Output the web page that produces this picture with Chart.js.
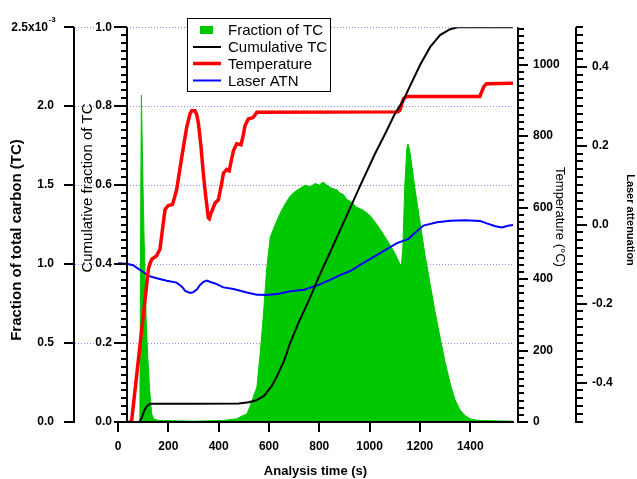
<!DOCTYPE html>
<html>
<head>
<meta charset="utf-8">
<script src="https://cdn.jsdelivr.net/npm/chart.js@4.4.0/dist/chart.umd.min.js"></script>
<style>
  html, body { margin: 0; padding: 0; background: #fff; }
</style>
</head>
<body>
<canvas id="tcChart" width="637" height="479"></canvas>
<script>
// Datos (tiempo en s)
const fracTime = [0, 87, 90, 93, 96, 100, 104, 108, 112, 118, 127, 134, 142, 160, 300, 420, 472, 495,
  512, 525, 538, 552, 565, 578, 591, 605, 625, 644, 664, 684, 704, 724, 744, 764, 784, 800, 815, 830,
  850, 870, 882, 896, 909, 930, 949, 976, 1000, 1020, 1042, 1062, 1082, 1100, 1115, 1126, 1132, 1140, 1148, 1152,
  1157, 1165, 1180, 1201, 1220, 1241, 1260, 1281, 1300, 1321, 1340, 1360, 1380, 1400, 1430, 1570];
// Fracción de TC en unidades de 1e-3
const fracTC = [0, 0, 1.3, 2.07, 1.8, 1.45, 1.15, 0.9, 0.65, 0.42, 0.18, 0.05, 0.02, 0.01, 0.005, 0.01, 0.02, 0.04,
  0.05, 0.1, 0.16, 0.22, 0.43, 0.68, 0.97, 1.17, 1.25, 1.32, 1.38, 1.43, 1.46, 1.48, 1.50, 1.49, 1.51, 1.50, 1.52, 1.50,
  1.48, 1.47, 1.45, 1.44, 1.41, 1.39, 1.36, 1.34, 1.31, 1.27, 1.22, 1.17, 1.12, 1.07, 1.02, 0.98, 1.1, 1.5, 1.73, 1.76,
  1.74, 1.66, 1.48, 1.26, 1.06, 0.87, 0.70, 0.53, 0.38, 0.24, 0.14, 0.075, 0.04, 0.02, 0.01, 0.005];

const cumTime = [0, 86, 95, 105, 115, 127, 300, 480, 520, 550, 580, 610, 631, 660, 684, 720, 760, 800, 843, 900,
  960, 1022, 1062, 1100, 1134, 1160, 1201, 1241, 1280, 1320, 1350, 1570];
const cumTC = [0, 0, 0.012, 0.03, 0.04, 0.046, 0.046, 0.047, 0.05, 0.055, 0.066, 0.09, 0.115, 0.155, 0.2, 0.255, 0.31, 0.37, 0.43, 0.51,
  0.595, 0.68, 0.73, 0.78, 0.815, 0.85, 0.905, 0.95, 0.98, 0.995, 1.0, 1.0];

const tempTime = [45, 54, 121, 128, 134, 154, 167, 177, 187, 200, 217, 233, 253, 273, 286, 293, 306, 313, 320, 330,
  339, 349, 359, 363, 370, 386, 399, 410, 419, 432, 442, 450, 459, 472, 489, 497, 505, 518, 537, 545,
  552, 1113, 1120, 1128, 1135, 1148, 1438, 1446, 1455, 1465, 1570];
const tempC = [0, 2, 429, 446, 455, 466, 484, 540, 595, 606, 609, 650, 740, 825, 862, 871, 871, 860, 834, 770,
  696, 630, 572, 569, 585, 613, 622, 660, 696, 707, 703, 730, 760, 779, 776, 800, 830, 848, 852, 860,
  867, 868, 872, 890, 905, 911, 911, 925, 940, 947, 948];

const atnTime = [0, 35, 60, 74, 100, 121, 154, 194, 233, 255, 267, 286, 300, 315, 326, 340, 353, 370, 386, 419,
  459, 512, 552, 591, 640, 684, 740, 800, 843, 883, 923, 976, 1042, 1109, 1155, 1175, 1214, 1268, 1321, 1380,
  1440, 1466, 1500, 1526, 1550, 1570];
const laserATN = [-0.098, -0.099, -0.103, -0.109, -0.12, -0.13, -0.136, -0.142, -0.147, -0.158, -0.168, -0.173, -0.171, -0.163, -0.153, -0.145, -0.142, -0.146, -0.149, -0.159,
  -0.163, -0.172, -0.1775, -0.178, -0.175, -0.169, -0.165, -0.152, -0.14, -0.128, -0.1175, -0.097, -0.072, -0.047, -0.036, -0.024, -0.0025, 0.006, 0.01, 0.011,
  0.009, 0.003, -0.004, -0.0075, -0.003, -0.001];

// Marcas de los ejes
const timeTicks = [0, 200, 400, 600, 800, 1000, 1200, 1400];
const fracTicks = [0, 0.5, 1.0, 1.5, 2.0, 2.5];
const cumTicks = [0, 0.2, 0.4, 0.6, 0.8, 1.0];
const tempTicks = [0, 200, 400, 600, 800, 1000];
const atnTicks = [-0.4, -0.2, 0, 0.2, 0.4];

const FONT = '"Liberation Sans", Arial, Helvetica, sans-serif';
const GREEN = 'rgb(0,200,0)';
Chart.defaults.font.family = FONT;
Chart.defaults.color = '#000';

const toXY = (xs, ys) => xs.map((x, i) => ({ x: x, y: ys[i] }));

function drawVAxis(ctx, scale, x, top, bottom, majors, minorStep, dir, majLen, minLen) {
    ctx.beginPath();
    ctx.moveTo(x, top);
    ctx.lineTo(x, bottom);
    majors.forEach(v => {
        const py = Math.round(scale.getPixelForValue(v));
        ctx.moveTo(x, py);
        ctx.lineTo(x + dir * majLen, py);
    });
    if (minorStep) {
        const n = Math.round((scale.max - scale.min) / minorStep);
        const start = Math.ceil(scale.min / minorStep);
        for (let k = start; k <= start + n; k++) {
            const v = k * minorStep;
            if (v > scale.max + 1e-9) break;
            const py = Math.round(scale.getPixelForValue(v));
            ctx.moveTo(x, py);
            ctx.lineTo(x + dir * minLen, py);
        }
    }
    ctx.stroke();
}

function rotText(ctx, text, x, y, rot, font) {
    ctx.save();
    ctx.translate(x, y);
    ctx.rotate(rot);
    ctx.font = font;
    ctx.textAlign = 'center';
    ctx.textBaseline = 'middle';
    ctx.fillStyle = '#000';
    ctx.fillText(text, 0, 0);
    ctx.restore();
}

const igorAxes = {
    id: 'igorAxes',
    beforeDraw(chart) {
        // Líneas de rejilla punteadas
        const ctx = chart.ctx;
        const area = chart.chartArea;
        const y1 = chart.scales.y1;
        ctx.save();
        ctx.strokeStyle = 'rgb(140,140,255)';
        ctx.lineWidth = 1;
        ctx.setLineDash([1, 2]);
        cumTicks.forEach(v => {
            if (v === 0) return;
            const py = Math.round(y1.getPixelForValue(v)) + 0.5;
            ctx.beginPath();
            ctx.moveTo(chart.scales.y.right + 1, py);
            ctx.lineTo(area.left - 23, py);
            ctx.moveTo(area.left + 9, py);
            ctx.lineTo(area.right, py);
            ctx.stroke();
        });
        ctx.restore();
    },
    afterDraw(chart) {
        const ctx = chart.ctx;
        const area = chart.chartArea;
        const s = chart.scales;
        ctx.save();
        ctx.strokeStyle = '#000';
        ctx.lineWidth = 2;

        // Eje X
        ctx.beginPath();
        ctx.moveTo(area.left, area.bottom);
        ctx.lineTo(area.right + 1, area.bottom);
        timeTicks.forEach(v => {
            const px = Math.round(s.x.getPixelForValue(v));
            ctx.moveTo(px, area.bottom);
            ctx.lineTo(px, area.bottom + 10);
        });
        ctx.stroke();

        // Ejes verticales
        drawVAxis(ctx, s.y, s.y.right, area.top, area.bottom + 1, fracTicks, null, -1, 10, 0);
        drawVAxis(ctx, s.y1, area.left + 9, area.top, area.bottom, cumTicks, 0.02, -1, 13, 6);
        drawVAxis(ctx, s.y2, area.right + 5, area.top, area.bottom + 1, tempTicks, 20, 1, 10, 6);
        drawVAxis(ctx, s.y3, s.y3.left, area.top, area.bottom + 1, atnTicks, 0.02, 1, 11, 7);

        // Etiqueta superior con exponente
        const yTop = s.y.getPixelForValue(2.5);
        ctx.fillStyle = '#000';
        ctx.font = 'bold 12px ' + FONT;
        ctx.textAlign = 'right';
        ctx.textBaseline = 'middle';
        ctx.fillText('2.5x10', 48, yTop);
        ctx.font = 'bold 8px ' + FONT;
        ctx.textAlign = 'left';
        ctx.fillText('-3', 48.5, yTop - 7);

        // Títulos de los ejes verticales
        rotText(ctx, 'Fraction of total carbon (TC)', 17, 240, -Math.PI / 2, 'bold 15px ' + FONT);
        rotText(ctx, 'Cumulative fraction of TC', 88, 188, -Math.PI / 2, '15px ' + FONT);
        rotText(ctx, 'Temperature (°C)', 560, 217, Math.PI / 2, '13px ' + FONT);
        rotText(ctx, 'Laser attenuation', 630, 220, Math.PI / 2, 'bold 11px ' + FONT);

        // Leyenda
        ctx.fillStyle = '#fff';
        ctx.fillRect(187.5, 18.5, 143, 73);
        ctx.lineWidth = 1;
        ctx.strokeRect(187.5, 18.5, 143, 73);
        const rows = [30, 47, 63.5, 80.5];
        ctx.font = '15px ' + FONT;
        ctx.textAlign = 'left';
        ctx.textBaseline = 'middle';
        chart.data.datasets.forEach((ds, i) => {
            const yy = rows[i];
            if (i === 0) {
                ctx.fillStyle = ds.backgroundColor;
                ctx.fillRect(200, yy - 4, 13, 8);
            } else {
                ctx.strokeStyle = ds.borderColor;
                ctx.lineWidth = ds.borderWidth;
                ctx.beginPath();
                ctx.moveTo(193, yy);
                ctx.lineTo(221, yy);
                ctx.stroke();
            }
            ctx.fillStyle = '#000';
            ctx.fillText(ds.label, 228, yy + 1);
        });
        ctx.restore();
    }
};

const tickFont = { size: 12, weight: 'bold' };
const noGrid = { display: false, drawTicks: false };

new Chart(document.getElementById('tcChart'), {
    type: 'line',
    data: {
        datasets: [
            {
                label: 'Fraction of TC',
                data: toXY(fracTime, fracTC),
                yAxisID: 'y',
                backgroundColor: GREEN,
                borderColor: GREEN,
                borderWidth: 1,
                fill: 'origin',
                pointRadius: 0,
                order: 4
            },
            {
                label: 'Cumulative TC',
                data: toXY(cumTime, cumTC),
                yAxisID: 'y1',
                borderColor: '#000',
                borderWidth: 2,
                fill: false,
                pointRadius: 0,
                order: 1
            },
            {
                label: 'Temperature',
                data: toXY(tempTime, tempC),
                yAxisID: 'y2',
                borderColor: 'rgb(255,0,0)',
                borderWidth: 3.5,
                fill: false,
                pointRadius: 0,
                order: 2
            },
            {
                label: 'Laser ATN',
                data: toXY(atnTime, laserATN),
                yAxisID: 'y3',
                borderColor: 'rgb(0,0,255)',
                borderWidth: 2,
                fill: false,
                pointRadius: 0,
                order: 3
            }
        ]
    },
    options: {
        responsive: false,
        animation: false,
        devicePixelRatio: 1,
        layout: { padding: { top: 22, left: 0, right: 0, bottom: 0 } },
        plugins: {
            legend: { display: false },
            tooltip: { enabled: false }
        },
        scales: {
            x: {
                type: 'linear',
                position: 'bottom',
                min: 0,
                max: 1570,
                afterBuildTicks: sc => { sc.ticks = timeTicks.map(v => ({ value: v })); },
                ticks: { padding: 17, font: tickFont, callback: v => String(v) },
                grid: noGrid,
                border: { display: false },
                title: {
                    display: true,
                    text: 'Analysis time (s)',
                    font: { size: 13, weight: 'bold' },
                    padding: { top: 0, bottom: 0 }
                },
                afterFit: sc => { sc.height = 57; }
            },
            y: {
                position: 'left',
                weight: 2,
                min: 0,
                max: 2.5,
                afterBuildTicks: sc => { sc.ticks = fracTicks.map(v => ({ value: v })); },
                ticks: { padding: 20, font: tickFont, callback: v => v === 2.5 ? '' : v.toFixed(1) },
                grid: noGrid,
                border: { display: false },
                afterFit: sc => { sc.width = 74; }
            },
            y1: {
                position: 'left',
                weight: 1,
                min: 0,
                max: 1,
                afterBuildTicks: sc => { sc.ticks = cumTicks.map(v => ({ value: v })); },
                ticks: { padding: 6, font: tickFont, callback: v => v.toFixed(1) },
                grid: noGrid,
                border: { display: false },
                afterFit: sc => { sc.width = 44; }
            },
            y2: {
                position: 'right',
                weight: 1,
                min: 0,
                max: 1105,
                afterBuildTicks: sc => { sc.ticks = tempTicks.map(v => ({ value: v })); },
                ticks: { padding: 20, font: tickFont, callback: v => String(v) },
                grid: noGrid,
                border: { display: false },
                afterFit: sc => { sc.width = 63; }
            },
            y3: {
                position: 'right',
                weight: 2,
                min: -0.5,
                max: 0.5,
                afterBuildTicks: sc => { sc.ticks = atnTicks.map(v => ({ value: v })); },
                ticks: { padding: 16, font: tickFont, callback: v => v.toFixed(1) },
                grid: noGrid,
                border: { display: false },
                afterFit: sc => { sc.width = 61; }
            }
        }
    },
    plugins: [igorAxes]
});
</script>
</body>
</html>
